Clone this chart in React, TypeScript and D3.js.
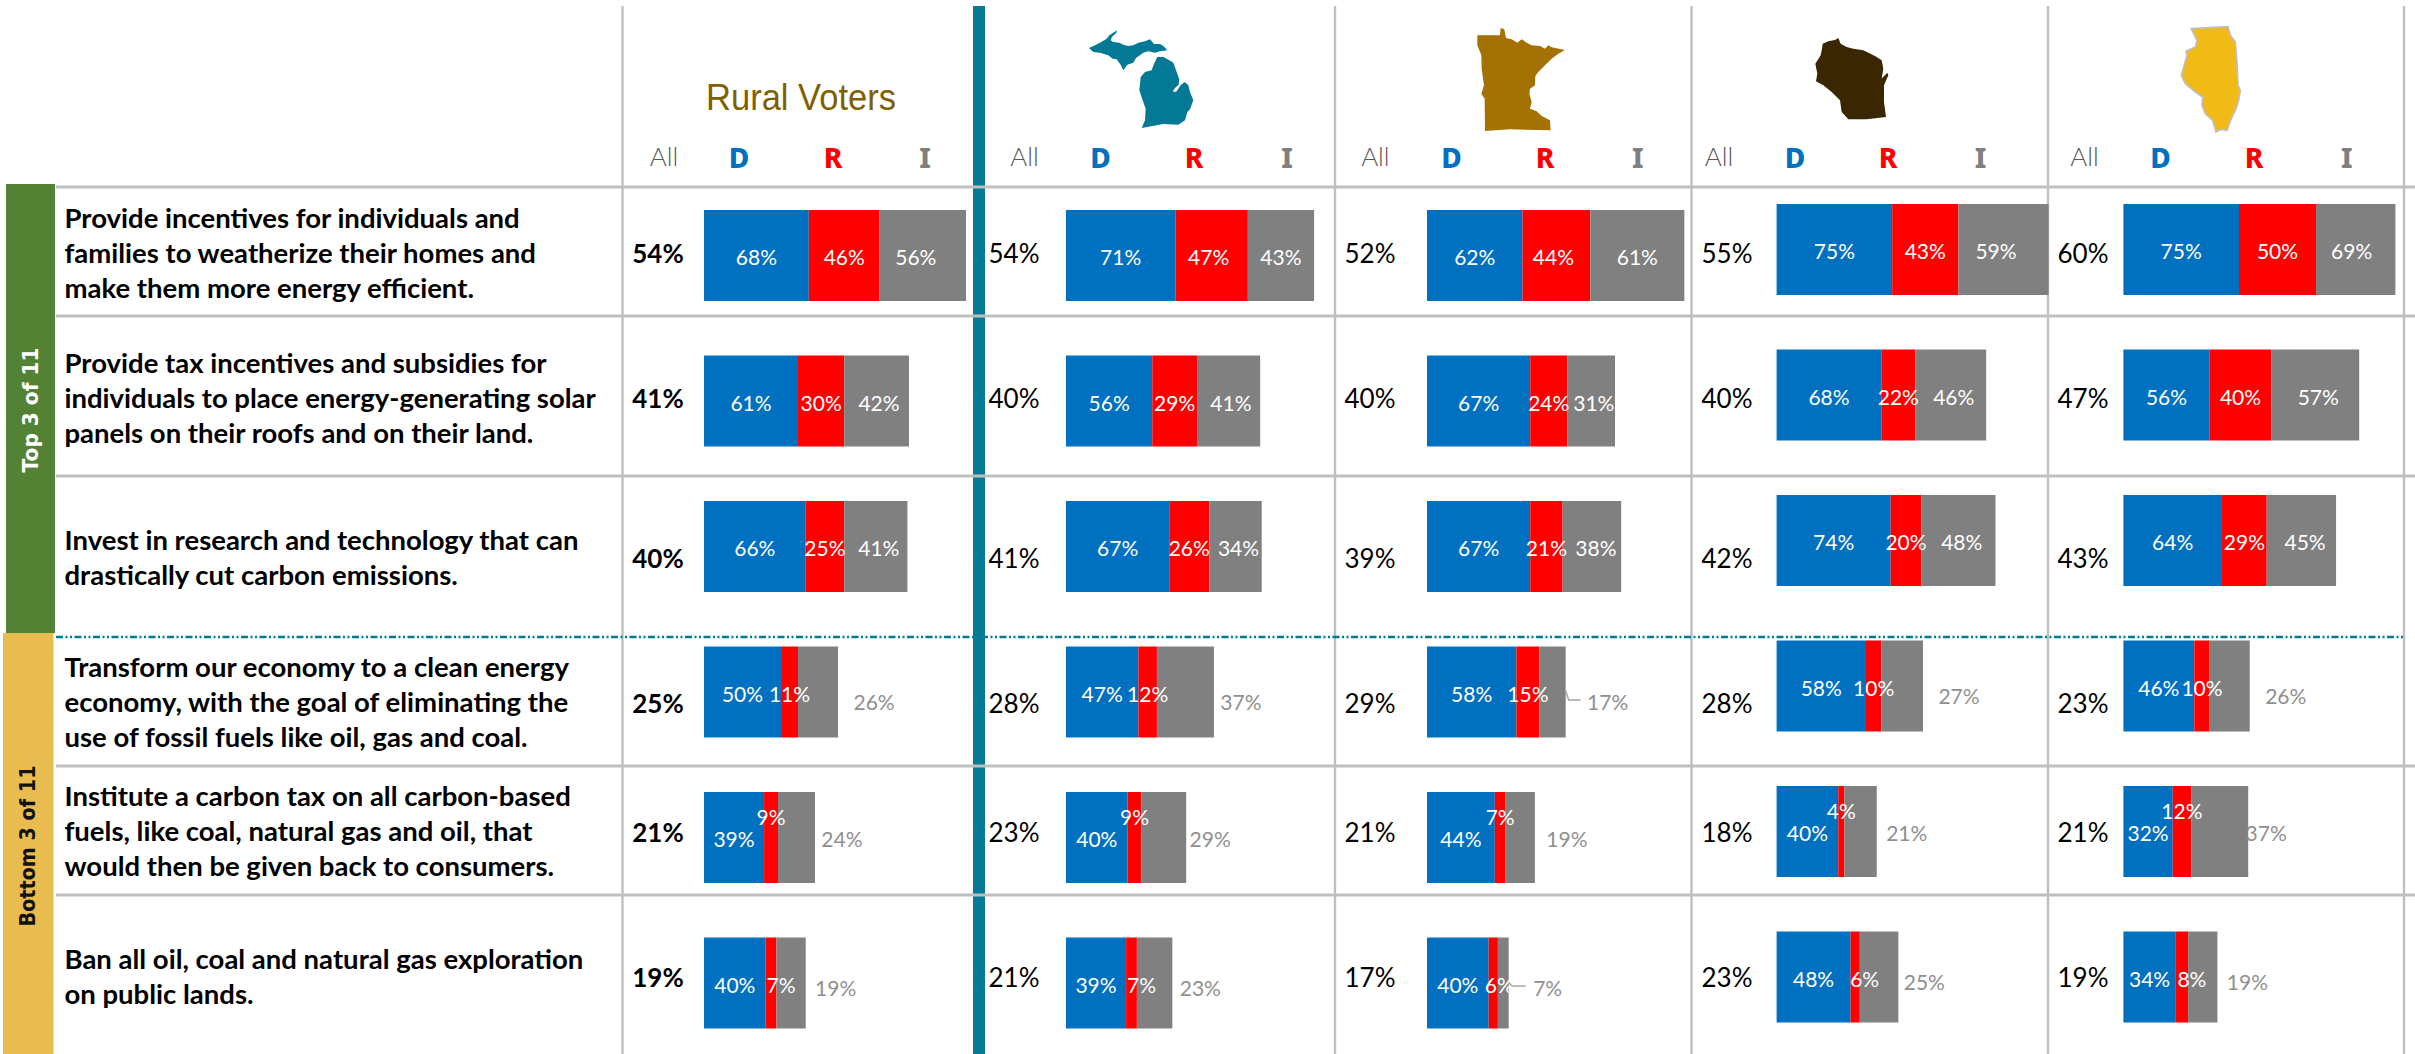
import React from "react";
import * as d3 from "d3";

const WIDTH = 2415;
const HEIGHT = 1054;

const questions = [
  ["Provide incentives for individuals and", "families to weatherize their homes and", "make them more energy efficient."],
  ["Provide tax incentives and subsidies for", "individuals to place energy-generating solar", "panels on their roofs and on their land."],
  ["Invest in research and technology that can", "drastically cut carbon emissions."],
  ["Transform our economy to a clean energy", "economy, with the goal of eliminating the", "use of fossil fuels like oil, gas and coal."],
  ["Institute a carbon tax on all carbon-based", "fuels, like coal, natural gas and oil, that", "would then be given back to consumers."],
  ["Ban all oil, coal and natural gas exploration", "on public lands."],
];

const allRural = [54, 41, 40, 25, 21, 19];
const allMI = [54, 40, 41, 28, 23, 21];
const allMN = [52, 40, 39, 29, 21, 17];
const allWI = [55, 40, 42, 28, 18, 23];
const allIL = [60, 47, 43, 23, 21, 19];

const demRural = [68, 61, 66, 50, 39, 40];
const demMI = [71, 56, 67, 47, 40, 39];
const demMN = [62, 67, 67, 58, 44, 40];
const demWI = [75, 68, 74, 58, 40, 48];
const demIL = [75, 56, 64, 46, 32, 34];

const repRural = [46, 30, 25, 11, 9, 7];
const repMI = [47, 29, 26, 12, 9, 7];
const repMN = [44, 24, 21, 15, 7, 6];
const repWI = [43, 22, 20, 10, 4, 6];
const repIL = [50, 40, 29, 10, 12, 8];

const indRural = [56, 42, 41, 26, 24, 19];
const indMI = [43, 41, 34, 37, 29, 23];
const indMN = [61, 31, 38, 17, 19, 7];
const indWI = [59, 46, 48, 27, 21, 25];
const indIL = [69, 57, 45, 26, 37, 19];

// Layout of each panel, separate from the values
const panels = [
  { all: allRural, d: demRural, r: repRural, i: indRural, x0: 704, rowShift: 0, allX: 658, bold: true, hAll: 664, hD: 739, hR: 833, hI: 925,
    iDx: [-7, 2.4, 3], outDx: [36, 27, 30], rDx: [0, 0, 0, 0, 0, 10] },
  { all: allMI, d: demMI, r: repMI, i: indMI, x0: 1066, rowShift: 0, allX: 1014, bold: false, hAll: 1024.5, hD: 1100.6, hR: 1194, hI: 1287,
    iDx: [0, 2.4, 3], outDx: [27, 24, 28], rDx: [-3, 0, 0, 0, 0, 10] },
  { all: allMN, d: demMN, r: repMN, i: indMN, x0: 1427, rowShift: 0, allX: 1370, bold: false, hAll: 1375.4, hD: 1451.5, hR: 1545, hI: 1637.7,
    iDx: [0, 2.7, 4], outDx: [42, 32, 39], rDx: [-3, 0, 0, 0, 0, 6] },
  { all: allWI, d: demWI, r: repWI, i: indWI, x0: 1776.6, rowShift: -6, allX: 1727, bold: false, hAll: 1719, hD: 1795, hR: 1888, hI: 1980.5,
    iDx: [-7.5, 3, 3.3], outDx: [36, 30, 26], rDx: [0, 0, 0, 0, 0, 9.5] },
  { all: allIL, d: demIL, r: repIL, i: indIL, x0: 2123.4, rowShift: -6, allX: 2083, bold: false, hAll: 2084.6, hD: 2160.5, hR: 2254, hI: 2346.7,
    iDx: [-4, 3, 3.7], outDx: [36, 18, 30], rDx: [0, 0, 0, 0, 0, 10] },
];

// Outlines of the state icons, in 1/3-pixel units of their own boxes
const michiganUpper = [[27,78],[45,70],[60,62],[80,50],[88,40],[100,32],[112,24],[108,34],[96,44],[92,55],[100,60],[118,62],[130,68],[145,72],[160,70],[175,62],[195,58],[210,52],[222,66],[240,66],[250,72],[262,85],[240,88],[225,92],[205,88],[190,92],[168,108],[160,122],[142,128],[130,145],[122,128],[110,112],[98,110],[85,100],[60,92],[40,90]];
const michiganLower = [[232,105],[250,105],[268,115],[280,122],[290,150],[298,172],[296,188],[285,198],[278,208],[288,210],[302,190],[314,180],[325,190],[330,210],[340,235],[330,262],[322,270],[315,295],[295,308],[250,306],[185,318],[195,295],[197,260],[188,235],[178,205],[182,165],[195,150],[215,145],[222,125]];
const minnesota = [[22,40],[90,40],[92,18],[103,22],[108,48],[125,52],[142,62],[155,52],[170,62],[185,70],[210,72],[225,80],[235,70],[245,76],[285,84],[265,95],[245,110],[225,130],[205,150],[196,162],[195,190],[180,200],[178,215],[185,240],[180,260],[200,268],[215,282],[240,295],[242,325],[120,322],[45,327],[44,230],[34,215],[42,190],[35,140],[34,100],[22,70]];
const wisconsin = [[38,35],[55,28],[75,24],[85,18],[92,35],[110,45],[130,50],[160,55],[175,62],[195,72],[215,85],[220,110],[215,140],[210,145],[232,122],[235,130],[222,160],[222,185],[222,210],[228,255],[170,262],[115,262],[95,240],[90,205],[65,180],[40,160],[18,148],[22,125],[16,95],[32,70],[36,50]];
const illinois = [[58,20],[168,14],[175,40],[190,60],[195,120],[198,190],[205,205],[200,235],[192,260],[178,290],[165,325],[148,322],[132,330],[122,295],[100,275],[90,250],[92,225],[70,210],[40,185],[28,160],[38,125],[45,100],[42,88],[70,75],[75,55]];

const BLUE = "#0070C0";
const RED = "#FF0000";
const GRAY = "#808080";
const TEAL = "#057A97";
const RULE = "#BFBFBF";
const OUT = "#8F8F8F";

const BODY = "Lato, 'Noto Sans', sans-serif";
const HEAD = "'Noto Sans', sans-serif";

const x = d3.scaleLinear().domain([0, 176.5]).range([0, 272]).clamp(true);
const rowTop = d3.scaleLinear().domain([0, 5]).range([210, 937.5]);
const BAR_H = 91;
const allY = [253, 398, 557.7, 702.7, 831.7, 976.7];
const textY = [252, 397, 556.7, 701.7, 830.7, 975.7];
const LINE_STEP = 35;

const shape = d3.line().curve(d3.curveLinearClosed);

function StatePath({ pts, ox, oy, fill, stroke }: any) {
  return (
    <path
      d={shape(pts) || ""}
      transform={`translate(${ox},${oy}) scale(${1 / 3})`}
      fill={fill}
      stroke={stroke || "none"}
      strokeWidth={stroke ? 5 : 0}
    />
  );
}

function Panel({ p }: any) {
  const leader = d3.line();
  return (
    <g>
      {p.all.map((_: number, row: number) => {
        const top = rowTop(row) + p.rowShift;
        const cy = top + BAR_H / 2 + 1;
        const d = p.d[row];
        const r = p.r[row];
        const i = p.i[row];
        const x1 = x(d);
        const x2 = x(d + r);
        const x3 = x(d + r + i);
        const outside = row >= 3;
        const rY = row === 4 ? cy - 22 : cy;
        const iCx = outside ? x3 + p.outDx[row - 3] : (x2 + x3) / 2 + p.iDx[row];
        const iCy = outside ? cy + [8, 0, 3][row - 3] : cy;
        const showLeader = p.x0 === 1427 && (row === 3 || row === 5);
        return (
          <g key={row} transform={`translate(${p.x0},0)`}>
            <rect x={0} y={top} width={x1} height={BAR_H} fill={BLUE} />
            <rect x={x1} y={top} width={x2 - x1} height={BAR_H} fill={RED} />
            <rect x={x2} y={top} width={x3 - x2} height={BAR_H} fill={GRAY} />
            {showLeader && (
              <path
                d={leader([[x3, cy - 2], [x3 + 3, iCy - 1], [x3 + (row === 3 ? 15 : 17), iCy - 1]]) || ""}
                fill="none"
                stroke="#A6A6A6"
                strokeWidth={1.5}
              />
            )}
            <g fontFamily={BODY} fontSize={21} textAnchor="middle" dominantBaseline="central">
              <text x={x1 / 2} y={cy} fill="#fff">{d}%</text>
              <text x={(x1 + x2) / 2 + p.rDx[row]} y={rY} fill="#fff">{r}%</text>
              <text x={iCx} y={iCy} fill={outside ? OUT : "#fff"}>{i}%</text>
            </g>
          </g>
        );
      })}
      {p.all.map((v: number, row: number) => (
        <text
          key={row}
          x={p.allX}
          y={allY[row]}
          fontFamily={BODY}
          fontSize={26}
          fontWeight={p.bold ? 700 : 400}
          fill="#000"
          textAnchor="middle"
          dominantBaseline="central"
        >
          {v}%
        </text>
      ))}
      <g textAnchor="middle" dominantBaseline="central">
        <text x={p.hAll} y={156} fontFamily={BODY} fontWeight={300} fontSize={26} fill="#595959">All</text>
        <text x={p.hD} y={157} fontFamily={HEAD} fontWeight={800} fontSize={28} fill={BLUE}>D</text>
        <text x={p.hR} y={157} fontFamily={HEAD} fontWeight={800} fontSize={28} fill={RED}>R</text>
        <text x={p.hI} y={157} fontFamily={HEAD} fontWeight={800} fontSize={28} fill={GRAY}>I</text>
      </g>
    </g>
  );
}

export default function App() {
  const verticals = [622.5, 1335, 1691.5, 2048, 2404];
  const horizontals = [187, 316, 476, 766, 895];
  return (
    <svg
      width={WIDTH}
      height={HEIGHT}
      viewBox={`0 0 ${WIDTH} ${HEIGHT}`}
      style={{ position: "absolute", left: 0, top: 0, display: "block", background: "#fff" }}
    >
      <rect x={6} y={184} width={49} height={449} fill="#548235" />
      <rect x={3} y={633} width={50.5} height={421} fill="#E9BC4F" />
      <text
        transform="translate(30,410) rotate(-90)"
        fontFamily="'DejaVu Sans', sans-serif"
        fontWeight={700}
        fontSize={22}
        fill="#fff"
        textAnchor="middle"
        dominantBaseline="central"
        textLength={125}
        lengthAdjust="spacingAndGlyphs"
      >
        Top 3 of 11
      </text>
      <text
        transform="translate(27.5,846) rotate(-90)"
        fontFamily="'DejaVu Sans', sans-serif"
        fontWeight={700}
        fontSize={22}
        fill="#111"
        textAnchor="middle"
        dominantBaseline="central"
        textLength={161}
        lengthAdjust="spacingAndGlyphs"
      >
        Bottom 3 of 11
      </text>

      {verticals.map((vx) => (
        <line key={vx} x1={vx} x2={vx} y1={6} y2={HEIGHT} stroke={RULE} strokeWidth={2.4} />
      ))}
      <rect x={973} y={6} width={12} height={HEIGHT - 6} fill={TEAL} />
      {horizontals.map((hy) => (
        <line key={hy} x1={56} x2={WIDTH} y1={hy} y2={hy} stroke={RULE} strokeWidth={3} />
      ))}

      {questions.map((lines, row) => {
        const start = textY[row] - ((lines.length - 1) / 2) * LINE_STEP;
        return lines.map((ln, k) => (
          <text
            key={`${row}-${k}`}
            x={64.5}
            y={start + k * LINE_STEP}
            fontFamily={BODY}
            fontWeight={700}
            fontSize={27.5}
            fill="#000"
            dominantBaseline="central"
          >
            {ln}
          </text>
        ));
      })}

      {panels.map((p) => (
        <Panel key={p.x0} p={p} />
      ))}

      <line x1={56} x2={2404} y1={637} y2={637} stroke={TEAL} strokeWidth={2.5} strokeDasharray="7 2.5 2 2.5 2 2.5" />

      <text
        x={801}
        y={110}
        fontFamily="'Liberation Sans', sans-serif"
        fontSize={37}
        fill="#7F6000"
        textAnchor="middle"
        textLength={190}
        lengthAdjust="spacingAndGlyphs"
      >
        Rural Voters
      </text>

      <StatePath pts={michiganUpper} ox={1080} oy={22} fill="#047996" />
      <StatePath pts={michiganLower} ox={1080} oy={22} fill="#047996" />
      <StatePath pts={minnesota} ox={1470} oy={22} fill="#A47105" />
      <StatePath pts={wisconsin} ox={1810} oy={32} fill="#3A2701" />
      <StatePath pts={illinois} ox={2172} oy={22} fill="#F1BA17" stroke={RULE} />
    </svg>
  );
}
